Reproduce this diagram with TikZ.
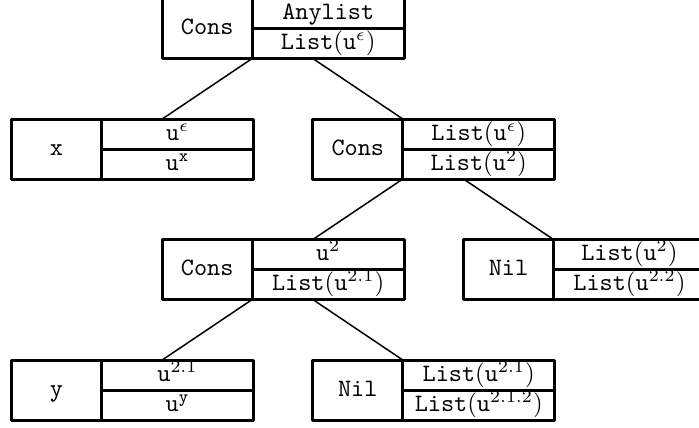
\documentclass[tikz,border=0pt]{standalone}
\begin{document}
\begin{tikzpicture}[x=0.4pt,y=-0.4pt,line join=round,thick]
\tikzset{every node/.style={font=\ttfamily,draw,line width=1.2pt,inner sep=0pt,outer sep=0pt,text height=7.5pt,text depth=2.5pt},
  tag/.style={minimum width=36pt,minimum height=24pt,anchor=north west},
  slot/.style={minimum width=60.8pt,minimum height=12pt,anchor=north west},
  link/.style={line width=0.6pt}}
\useasboundingbox (0,2) rectangle (699,429);
\clip (0,2) rectangle (699,429);
% boxes: name/left/top/tag/upper/lower
\foreach \nm/\px/\py/\tg/\up/\lo in {
  root/162.2/0.5/Cons/Anylist/{List$(\mathtt{u}^{\epsilon})$},
  lx/11.5/121/x/{u$^{\epsilon}$}/{u$^{\mathtt{x}}$},
  cons/312.8/121/Cons/{List$(\mathtt{u}^{\epsilon})$}/{List$(\mathtt{u}^{2})$},
  cons2/162.2/241.5/Cons/{u$^{2}$}/{List$(\mathtt{u}^{2.1})$},
  nil/463.5/241.5/Nil/{List$(\mathtt{u}^{2})$}/{List$(\mathtt{u}^{2.2})$},
  ly/11.5/362/y/{u$^{2.1}$}/{u$^{\mathtt{y}}$},
  nil2/312.8/362/Nil/{List$(\mathtt{u}^{2.1})$}/{List$(\mathtt{u}^{2.1.2})$}}
{
  \node[tag] (\nm) at (\px,\py) {\tg};
  \node[slot] (\nm-a) at (\nm.north east) {\up};
  \node[slot] (\nm-b) at (\nm-a.south west) {\lo};
}
% tree edges
\draw[link] (root.south east) -- (root.south west |- lx-a.north);
\draw[link] (cons.north west |- root.south) -- (cons.north east);
\draw[link] (cons.south east) -- (cons.south west |- cons2-a.north);
\draw[link] (nil.north west |- cons.south) -- (nil.north east);
\draw[link] (cons2.south east) -- (cons2.south west |- ly-a.north);
\draw[link] (nil2.north west |- cons2.south) -- (nil2.north east);
\end{tikzpicture}
\end{document}
